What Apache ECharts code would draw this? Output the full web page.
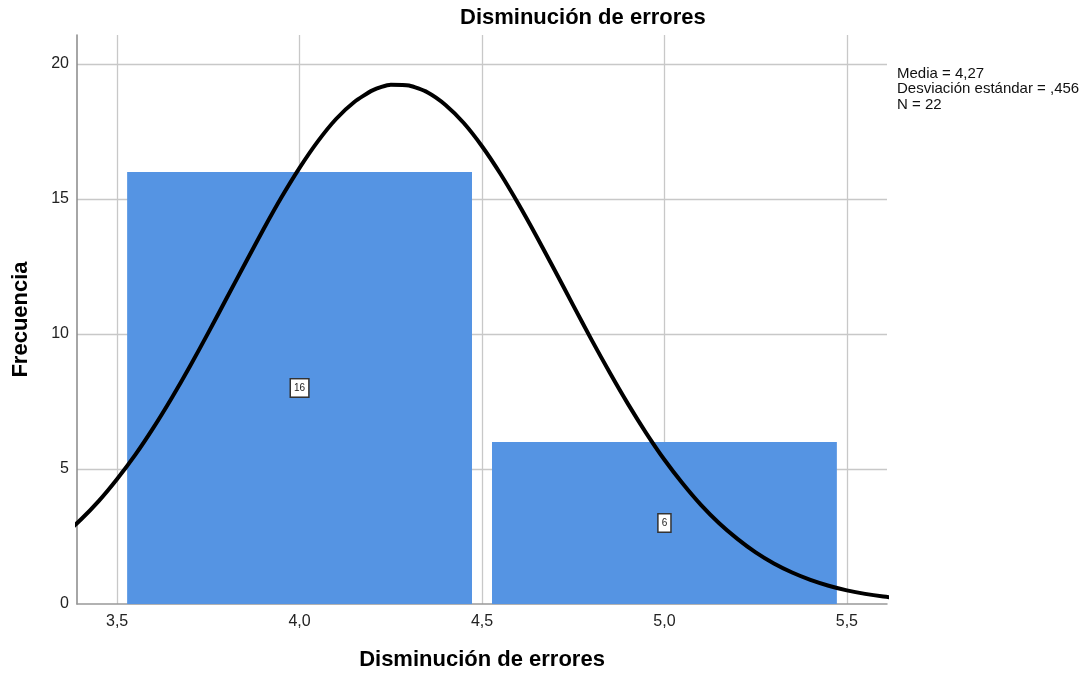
<!DOCTYPE html>
<html>
<head>
<meta charset="utf-8">
<script src="https://cdn.jsdelivr.net/npm/echarts@6/dist/echarts.min.js"></script>
<style>
  html, body { margin: 0; padding: 0; background: #fff; }
  #chart { width: 1092px; height: 679px; }
</style>
</head>
<body>
<div id="chart"></div>
<script>
// Histogram bins (edges) and counts
const binStarts = [3.5, 4.5];
const binEnds = [4.5, 5.5];
const counts = [16, 6];

// Fitted normal curve (frequency scale), sampled every 0.05 along the x axis
const curveX = [3.30, 3.35, 3.40, 3.45, 3.50, 3.55, 3.60, 3.65, 3.70, 3.75, 3.80, 3.85, 3.90, 3.95,
  4.00, 4.05, 4.10, 4.15, 4.20, 4.25, 4.30, 4.35, 4.40, 4.45, 4.50, 4.55, 4.60, 4.65,
  4.70, 4.75, 4.80, 4.85, 4.90, 4.95, 5.00, 5.05, 5.10, 5.15, 5.20, 5.25, 5.30, 5.35,
  5.40, 5.45, 5.50, 5.55, 5.60, 5.65, 5.70];
const curveY = [2.00, 2.51, 3.12, 3.82, 4.63, 5.53, 6.54, 7.64, 8.81, 10.05, 11.32, 12.59, 13.85, 15.05,
  16.15, 17.13, 17.96, 18.59, 19.02, 19.23, 19.20, 18.95, 18.48, 17.81, 16.95, 15.94, 14.81, 13.60,
  12.34, 11.06, 9.79, 8.57, 7.41, 6.33, 5.34, 4.46, 3.67, 2.99, 2.41, 1.91, 1.50, 1.165,
  0.893, 0.677, 0.506, 0.374, 0.274, 0.197, 0.141];

// Summary statistics
const statLines = ['Media = 4,27', 'Desviación estándar = ,456', 'N = 22'];

const titleText = 'Disminución de errores';
const xName = 'Disminución de errores';
const yName = 'Frecuencia';

const fontFam = '"Liberation Sans", Arial, sans-serif';

const chart = echarts.init(document.getElementById('chart'), null, { renderer: 'canvas' });

const barData = binStarts.map((s, i) => [s, binEnds[i], counts[i]]);
const lineData = curveX.map((x, i) => [x, curveY[i]]);

function isStep(v, step) {
  return Math.abs(v / step - Math.round(v / step)) < 1e-6;
}

chart.setOption({
  animation: false,
  backgroundColor: '#fff',
  grid: { left: 77, right: 205, top: 35, bottom: 75 },
  graphic: [
    {
      type: 'text', left: 460, top: 7,
      style: { text: titleText, font: 'bold 22px ' + fontFam, fill: '#000' }
    },
    {
      type: 'text', left: 897, top: 66,
      style: { text: statLines.join('\n'), font: '15px ' + fontFam, lineHeight: 15.5, fill: '#111' }
    }
  ],
  xAxis: {
    type: 'value',
    min: 3.39, max: 5.61,
    splitNumber: 5,
    name: xName,
    nameLocation: 'middle',
    nameGap: 45,
    nameTextStyle: { fontFamily: fontFam, fontSize: 22, fontWeight: 'bold', color: '#000' },
    axisLine: { show: true, lineStyle: { color: '#999', width: 1.5 } },
    axisTick: { show: false },
    axisLabel: {
      fontFamily: fontFam, fontSize: 16, color: '#222', margin: 10,
      showMinLabel: false, showMaxLabel: false,
      formatter: v => isStep(v, 0.5) ? v.toFixed(1).replace('.', ',') : ''
    },
    splitLine: { show: true, showMinLine: false, showMaxLine: false, lineStyle: { color: '#c8c8c8', width: 1.3 } }
  },
  yAxis: {
    type: 'value',
    min: 0, max: 21.07,
    interval: 5,
    name: yName,
    nameLocation: 'middle',
    nameGap: 45,
    nameTextStyle: { fontFamily: fontFam, fontSize: 22, fontWeight: 'bold', color: '#000' },
    axisLine: { show: true, lineStyle: { color: '#888', width: 1.5 } },
    axisTick: { show: false },
    axisLabel: {
      fontFamily: fontFam, fontSize: 16, color: '#222', margin: 8,
      showMaxLabel: false,
      formatter: v => isStep(v, 5) ? String(Math.round(v)) : ''
    },
    splitLine: { show: true, showMinLine: false, showMaxLine: false, lineStyle: { color: '#c8c8c8', width: 1.3 } }
  },
  series: [
    {
      type: 'custom',
      z: 2,
      data: barData,
      encode: { x: [0, 1], y: 2 },
      renderItem: function (params, api) {
        const x0 = api.coord([api.value(0), 0]);
        const x1 = api.coord([api.value(1), api.value(2)]);
        const inset = 10;
        const left = x0[0] + inset;
        const right = x1[0] - inset;
        const top = x1[1];
        const bottom = x0[1];
        const mid = api.coord([(api.value(0) + api.value(1)) / 2, api.value(2) / 2]);
        return {
          type: 'group',
          children: [
            {
              type: 'rect',
              shape: { x: left, y: top, width: right - left, height: bottom - top },
              style: { fill: '#5594e3' }
            },
            {
              type: 'text',
              x: mid[0], y: mid[1],
              style: {
                text: String(api.value(2)),
                font: '10px ' + fontFam,
                fill: '#222',
                align: 'center',
                verticalAlign: 'middle',
                backgroundColor: '#fff',
                borderColor: '#333',
                borderWidth: 1.5,
                padding: [4, 3, 3, 3]
              }
            }
          ]
        };
      }
    },
    {
      type: 'line',
      z: 3,
      data: lineData,
      smooth: 0.2,
      showSymbol: false,
      lineStyle: { color: '#000', width: 4, cap: 'round', join: 'round' },
      clip: true
    }
  ]
});
</script>
</body>
</html>
